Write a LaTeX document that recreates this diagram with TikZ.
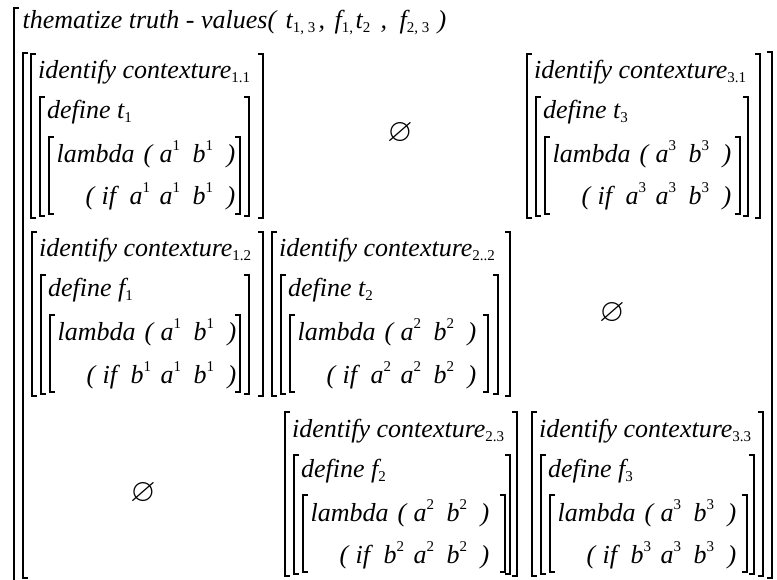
\documentclass[tikz,border=0pt]{standalone}
\usepackage{fontspec}
\usepackage{amssymb}
\setmainfont{Liberation Serif}
\newcommand\sbs[1]{\raisebox{-4pt}{\fontsize{15}{15}\selectfont\upshape #1}}
\newcommand\sps[1]{\raisebox{12pt}{\fontsize{15}{15}\selectfont\upshape #1}}
\newcommand\putat[2]{\rlap{\hspace{#1pt}#2}}
\tikzset{
  brk/.style={line width=1.3pt, line cap=butt, line join=miter},
  txt/.style={anchor=base west, inner sep=0pt, font=\fontsize{26}{30}\selectfont\itshape},
  emp/.style={inner sep=0pt, font=\fontsize{26}{30}\selectfont}
}
% brackets of one block: L, T, Rid, Rdef, Rlam
\newcommand\blk[5]{%
  \draw[brk] (#1+5,#2) -- (#1,#2) -- (#1,#2+164) -- (#1+5,#2+164);
  \draw[brk] (#3-5,#2) -- (#3,#2) -- (#3,#2+164) -- (#3-5,#2+164);
  \draw[brk] (#1+14,#2+43) -- (#1+9,#2+43) -- (#1+9,#2+162) -- (#1+14,#2+162);
  \draw[brk] (#4-5,#2+43) -- (#4,#2+43) -- (#4,#2+162) -- (#4-5,#2+162);
  \draw[brk] (#1+23,#2+83) -- (#1+18,#2+83) -- (#1+18,#2+160) -- (#1+23,#2+160);
  \draw[brk] (#5-5,#2+83) -- (#5,#2+83) -- (#5,#2+160) -- (#5-5,#2+160);
}
% texts of one block: name, L, T, subscript, defined var, sup, first var
\newcommand\blktxt[7]{%
  \node[txt] (#1id) at (#2+7,#3+25) {identify contexture\sbs{#4}};
  \node[txt] (#1def) at (#2+16,#3+65) {define #5};
  \node[txt] (#1lam) at (#2+25,#3+109) {\putat{0}{lambda}\putat{87}{(}\putat{103}{a\sps{#6}}\putat{136}{b\sps{#6}}\putat{170}{)}};
  \node[txt] (#1if) at (#2+25,#3+151) {\putat{29}{(}\putat{45}{if}\putat{73}{#7\sps{#6}}\putat{103}{a\sps{#6}}\putat{136}{b\sps{#6}}\putat{170}{)}};
}
\newcommand\emptysym{\scalebox{1.25}{$\varnothing$}}
\begin{document}
\begin{tikzpicture}[x=1pt,y=-1pt]
\useasboundingbox (0,0) rectangle (777,580);
\fill[white] (0,0) rectangle (777,580);
% outer bracket
\draw[brk] (19,8) -- (14,8) -- (14,585);
\node[txt] (title) at (22,29) {\putat{0}{thematize truth - values(}\putat{263}{t\sbs{1, 3}}\putat{296}{,}\putat{312}{f\sbs{1,}}\putat{333}{t\sbs{2}}\putat{358}{,}\putat{377}{f\sbs{2, 3}}\putat{415}{)}};
% matrix bracket
\draw[brk] (28,53) -- (23,53) -- (23,578) -- (28,578);
\draw[brk] (767,52) -- (772,52) -- (772,578) -- (767,578);
% row 1
\blk{31}{54}{263}{249}{240}
\blktxt{a}{31}{54}{1.1}{t\sbs{1}}{1}{a}
\node[emp] (e1) at (400,133) {\emptysym};
\blk{527}{54}{760}{748}{740}
\blktxt{c}{527}{54}{3.1}{t\sbs{3}}{3}{a}
% row 2
\blk{32}{232}{263}{249}{240}
\blktxt{d}{32}{232}{1.2}{f\sbs{1}}{1}{b}
\blk{272}{232}{510}{498}{488}
\blktxt{e}{272}{232}{2..2}{t\sbs{2}}{2}{a}
\node[emp] (e2) at (612,313) {\emptysym};
% row 3
\node[emp] (e3) at (143,493) {\emptysym};
\blk{285}{412}{517}{510}{505}
\blktxt{h}{285}{412}{2.3}{f\sbs{2}}{2}{b}
\blk{532}{412}{763}{754}{747}
\blktxt{i}{532}{412}{3.3}{f\sbs{3}}{3}{b}
\end{tikzpicture}
\end{document}
